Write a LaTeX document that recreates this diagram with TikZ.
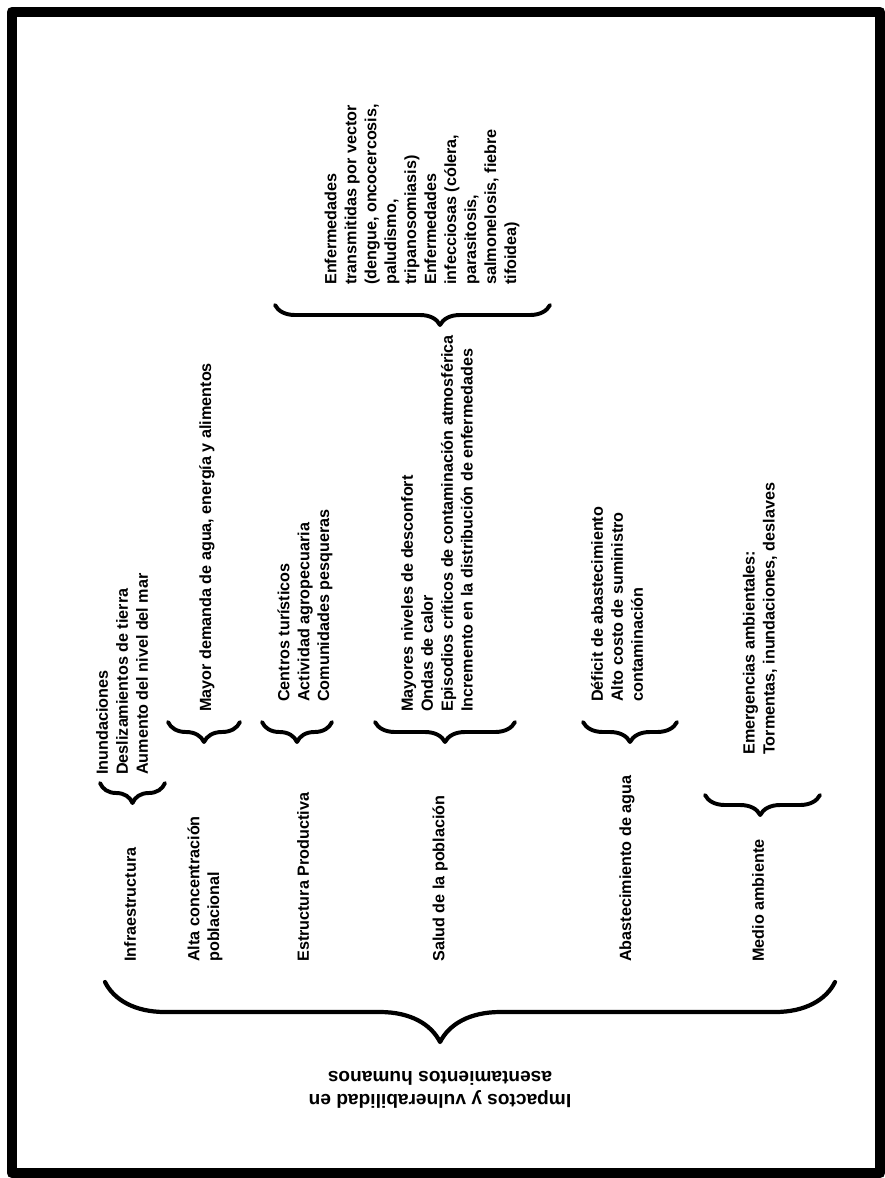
\documentclass[tikz,border=0pt]{standalone}
\usepackage{fontspec}
\setmainfont{Liberation Sans}
\usetikzlibrary{decorations.pathreplacing}
\begin{document}
\begin{tikzpicture}[x=0.025cm, y=-0.025cm, font=\bfseries\fontsize{11.5}{14.2}\selectfont, line cap=round, line join=round,
    vtxt/.style={rotate=90, anchor=west, align=left, inner sep=0pt},
    llave/.style={decorate, decoration={brace, amplitude=#1}, line width=2.8pt}]
    \useasboundingbox (0,0) rectangle (885,1178);
    \draw[line width=7.8pt] (12,12) rectangle (880,1173);
    % categorias
    \node[vtxt] (infra) at (130,962) {Infraestructura};
    \node[vtxt] (alta) at (205,962) {Alta concentración\\poblacional};
    \node[vtxt] (estr) at (303,962) {Estructura Productiva};
    \node[vtxt] (salud) at (440,962) {Salud de la población};
    \node[vtxt] (abast) at (627,962) {Abastecimiento de agua};
    \node[vtxt] (medio) at (758,962) {Medio ambiente};
    % efectos
    \node[vtxt] (infraitems) at (122,775) {Inundaciones\\Deslizamientos de tierra\\Aumento del nivel del mar};
    \node[vtxt] (altaitems) at (207,712) {Mayor demanda de agua, energía y alimentos};
    \node[vtxt] (estritems) at (305,702) {Centros turísticos\\Actividad agropecuaria\\Comunidades pesqueras};
    \node[vtxt] (saluditems) at (437,712) {Mayores niveles de desconfort\\Ondas de calor\\Episodios críticos de contaminación atmosférica\\Incremento en la distribución de enfermedades};
    \node[vtxt] (enferm) at (422,285) {Enfermedades\\transmitidas por vector\\(dengue, oncocercosis,\\paludismo,\\tripanosomiasis)\\Enfermedades\\infecciosas (cólera,\\parasitosis,\\salmonelosis, fiebre\\tifoidea)};
    \node[vtxt] (abastitems) at (617,702) {Déficit de abastecimiento\\Alto costo de suministro\\contaminación};
    \node[vtxt] (medioitems) at (760,755) {Emergencias ambientales:\\Tormentas, inundaciones, deslaves};
    % llaves
    \draw[llave=0.5cm] (165,783) -- (100,783);
    \draw[llave=0.5cm] (240,722) -- (168,722);
    \draw[llave=0.5cm] (332,722) -- (262,722);
    \draw[llave=0.5cm] (515,722) -- (375,722);
    \draw[llave=0.5cm] (677,722) -- (583,722);
    \draw[llave=0.5cm, decoration={aspect=0.52}] (820,795) -- (705,795);
    \draw[llave=0.5cm, decoration={aspect=0.4}] (550,305) -- (275,305);
    \draw[llave=1.5cm, line width=3pt, decoration={aspect=0.541}] (835,982) -- (105,982);
    % titulo
    \node[rotate=180, align=center, inner sep=0pt, font=\bfseries\fontsize{13.6}{16}\selectfont] (titulo) at (440,1090) {Impactos y vulnerabilidad en\\asentamientos humanos};
\end{tikzpicture}
\end{document}
